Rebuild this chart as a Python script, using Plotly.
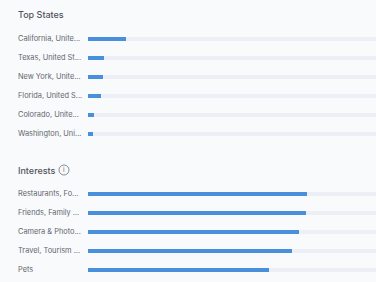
import plotly.graph_objects as go

W, H = 376, 282

state_labels = ["California, Unite...", "Texas, United St...", "New York, Unite...",
                "Florida, United S...", "Colorado, Unite...", "Washington, Uni..."]
state_values = [13.2, 5.6, 5.2, 4.5, 2.1, 1.7]

interest_labels = ["Restaurants, Fo...", "Friends, Family ...", "Camera & Photo...",
                   "Travel, Tourism ...", "Pets"]
interest_values = [76.0, 75.7, 73.3, 70.8, 62.8]

track_max = 100

BG = "#f9fafc"
TRACK = "#eceff5"
BAR = "#4a8fdc"
TXT = "#62666d"
FONT = "Inter"

fig = go.Figure()

def py(p):
    return 1 - p / H

groups = [
    (state_labels, state_values, "x", "y", [py(142.5), py(28.5)]),
    (interest_labels, interest_values, "x2", "y2", [py(278.5), py(183.5)]),
]

bw = 4 / 19
for labels, vals, xa, ya, dom in groups:
    idx = list(range(len(labels)))
    fig.add_trace(go.Bar(x=[track_max] * len(labels), y=idx, orientation="h",
                         marker=dict(color=TRACK, line=dict(width=0)), width=bw,
                         xaxis=xa, yaxis=ya, hoverinfo="skip", showlegend=False))
    fig.add_trace(go.Bar(x=vals, y=idx, orientation="h",
                         marker=dict(color=BAR, line=dict(width=0)), width=bw,
                         xaxis=xa, yaxis=ya, showlegend=False,
                         hovertemplate="%{x}<extra></extra>"))
    for i, lab in enumerate(labels):
        fig.add_annotation(text=lab, xref="paper", x=16 / W, xanchor="left",
                           yref=ya, y=i + 0.03, yanchor="middle", showarrow=False,
                           font=dict(family=FONT, size=7.4, color=TXT))

axis_common = dict(showgrid=False, zeroline=False, showticklabels=False, showline=False,
                   fixedrange=True)
xdom = [88 / W, 1.0]
fig.update_layout(
    width=W, height=H, margin=dict(l=0, r=0, t=0, b=0),
    paper_bgcolor=BG, plot_bgcolor=BG, barmode="overlay", bargap=0,
    xaxis=dict(domain=xdom, range=[0, track_max], anchor="y", **axis_common),
    yaxis=dict(domain=groups[0][4], range=[5.5, -0.5], anchor="x", **axis_common),
    xaxis2=dict(domain=xdom, range=[0, track_max], anchor="y2", **axis_common),
    yaxis2=dict(domain=groups[1][4], range=[4.5, -0.5], anchor="x2", **axis_common),
)

fig.add_annotation(text="Top States", xref="paper", yref="paper", x=16 / W, y=py(14.5),
                   xanchor="left", yanchor="middle", showarrow=False,
                   font=dict(family=FONT, size=9, color="#50545b", weight=500))
fig.add_annotation(text="Interests", xref="paper", yref="paper", x=16 / W, y=py(170),
                   xanchor="left", yanchor="middle", showarrow=False,
                   font=dict(family=FONT, size=9, color="#50545b", weight=500))
# info icon
cx, cy, r = 64, 170, 5
fig.add_shape(type="circle", xref="paper", yref="paper",
              x0=(cx - r) / W, x1=(cx + r) / W, y0=py(cy + r), y1=py(cy - r),
              line=dict(color="#6b7078", width=0.8), fillcolor="rgba(0,0,0,0)")
fig.add_annotation(text="i", xref="paper", yref="paper", x=cx / W, y=py(cy),
                   xanchor="center", yanchor="middle", showarrow=False,
                   font=dict(family=FONT, size=6.5, color="#6b7078"))

fig.write_html("out.html")
